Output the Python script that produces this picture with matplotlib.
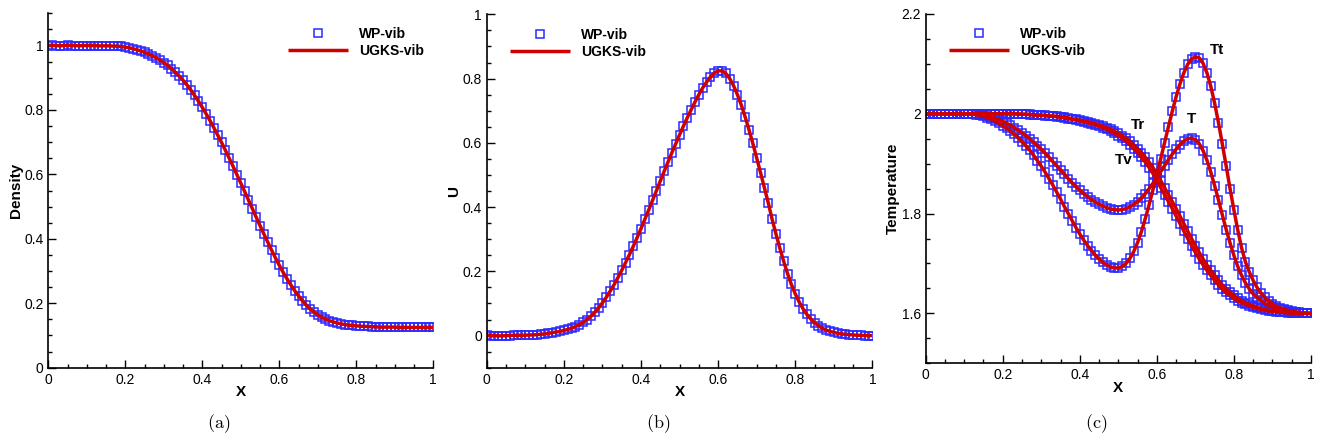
import numpy as np
import matplotlib
matplotlib.use("Agg")
import matplotlib.pyplot as plt
from matplotlib.ticker import MultipleLocator, FuncFormatter

# sample positions (cell spacing 0.01)
x = np.round(np.arange(101) * 0.01, 2)

density = [
    1.000, 1.001, 1.000, 0.999, 1.000, 1.001, 1.000, 1.000, 0.999, 1.000,
    1.000, 1.000, 1.000, 0.999, 0.999, 0.999, 0.999, 0.998, 0.998, 0.997,
    0.995, 0.993, 0.990, 0.987, 0.983, 0.979, 0.974, 0.968, 0.962, 0.955,
    0.947, 0.938, 0.928, 0.917, 0.905, 0.892, 0.878, 0.862, 0.845, 0.827,
    0.808, 0.788, 0.767, 0.745, 0.722, 0.699, 0.675, 0.650, 0.625, 0.599,
    0.573, 0.547, 0.520, 0.494, 0.467, 0.441, 0.415, 0.390, 0.365, 0.341,
    0.318, 0.296, 0.276, 0.257, 0.239, 0.223, 0.208, 0.195, 0.183, 0.173,
    0.164, 0.157, 0.151, 0.146, 0.142, 0.139, 0.136, 0.134, 0.132, 0.131,
    0.130, 0.129, 0.128, 0.128, 0.127, 0.127, 0.126, 0.126, 0.126, 0.126,
    0.126, 0.125, 0.125, 0.125, 0.125, 0.125, 0.125, 0.125, 0.125, 0.125, 0.125,
]

velocity = [
    0.002, 0.000, 0.000, -0.001, -0.001, 0.000, 0.000, 0.001, 0.001, 0.001,
    0.001, 0.002, 0.002, 0.003, 0.004, 0.005, 0.007, 0.009, 0.011, 0.013,
    0.016, 0.019, 0.023, 0.028, 0.034, 0.041, 0.050, 0.060, 0.072, 0.086,
    0.102, 0.119, 0.138, 0.158, 0.180, 0.203, 0.227, 0.252, 0.278, 0.305,
    0.333, 0.362, 0.391, 0.421, 0.451, 0.481, 0.511, 0.540, 0.569, 0.597,
    0.625, 0.652, 0.678, 0.703, 0.727, 0.750, 0.771, 0.789, 0.805, 0.817,
    0.824, 0.824, 0.816, 0.800, 0.778, 0.750, 0.718, 0.681, 0.641, 0.598,
    0.553, 0.507, 0.460, 0.413, 0.362, 0.316, 0.272, 0.231, 0.193, 0.159,
    0.130, 0.105, 0.084, 0.066, 0.052, 0.040, 0.031, 0.023, 0.017, 0.013,
    0.010, 0.007, 0.005, 0.004, 0.003, 0.002, 0.001, 0.001, 0.000, 0.000, 0.000,
]

temp_t = [
    2.000, 2.000, 2.000, 2.000, 2.000, 2.000, 2.000, 2.000, 2.000, 2.000,
    2.000, 1.999, 1.999, 1.998, 1.997, 1.995, 1.992, 1.989, 1.985, 1.981,
    1.976, 1.971, 1.965, 1.959, 1.952, 1.944, 1.936, 1.927, 1.917, 1.906,
    1.895, 1.883, 1.870, 1.857, 1.843, 1.829, 1.814, 1.800, 1.786, 1.772,
    1.759, 1.747, 1.736, 1.726, 1.717, 1.709, 1.702, 1.697, 1.693, 1.691,
    1.691, 1.694, 1.700, 1.710, 1.724, 1.742, 1.764, 1.790, 1.818, 1.848,
    1.878, 1.910, 1.942, 1.974, 2.005, 2.034, 2.060, 2.082, 2.099, 2.110,
    2.114, 2.112, 2.101, 2.082, 2.055, 2.021, 1.982, 1.939, 1.895, 1.850,
    1.807, 1.767, 1.731, 1.703, 1.683, 1.666, 1.652, 1.641, 1.632, 1.625,
    1.619, 1.614, 1.611, 1.608, 1.606, 1.604, 1.603, 1.602, 1.601, 1.600, 1.600,
]

temp_total = [
    2.000, 2.000, 2.000, 2.000, 2.000, 2.000, 2.000, 2.000, 2.000, 2.000,
    2.000, 2.000, 1.999, 1.999, 1.998, 1.997, 1.995, 1.993, 1.991, 1.988,
    1.985, 1.981, 1.977, 1.972, 1.967, 1.962, 1.956, 1.950, 1.943, 1.936,
    1.929, 1.921, 1.913, 1.904, 1.896, 1.887, 1.879, 1.870, 1.862, 1.854,
    1.847, 1.840, 1.834, 1.828, 1.823, 1.819, 1.815, 1.812, 1.809, 1.808,
    1.807, 1.808, 1.810, 1.813, 1.818, 1.824, 1.831, 1.840, 1.850, 1.861,
    1.872, 1.884, 1.896, 1.908, 1.919, 1.929, 1.938, 1.945, 1.950, 1.951,
    1.948, 1.940, 1.926, 1.907, 1.883, 1.856, 1.827, 1.797, 1.768, 1.741,
    1.716, 1.694, 1.676, 1.661, 1.649, 1.639, 1.632, 1.626, 1.620, 1.616,
    1.613, 1.610, 1.608, 1.606, 1.604, 1.603, 1.602, 1.601, 1.601, 1.600, 1.600,
]

temp_r = [
    2.000, 2.000, 2.000, 2.000, 2.000, 2.000, 2.000, 2.000, 2.000, 2.000,
    2.000, 2.000, 2.000, 2.000, 2.000, 2.000, 2.000, 2.000, 2.000, 2.000,
    2.000, 2.000, 2.000, 2.000, 2.000, 1.999, 1.999, 1.999, 1.998, 1.998,
    1.997, 1.997, 1.996, 1.995, 1.995, 1.994, 1.993, 1.992, 1.990, 1.989,
    1.987, 1.986, 1.984, 1.982, 1.980, 1.978, 1.975, 1.972, 1.969, 1.965,
    1.961, 1.956, 1.951, 1.945, 1.938, 1.930, 1.922, 1.913, 1.903, 1.892,
    1.880, 1.866, 1.852, 1.838, 1.824, 1.810, 1.795, 1.780, 1.765, 1.750,
    1.736, 1.722, 1.709, 1.697, 1.686, 1.676, 1.666, 1.657, 1.649, 1.642,
    1.636, 1.630, 1.625, 1.621, 1.618, 1.615, 1.612, 1.610, 1.608, 1.606,
    1.605, 1.604, 1.603, 1.602, 1.602, 1.601, 1.601, 1.600, 1.600, 1.600, 1.600,
]

temp_v = [
    2.000, 2.000, 2.000, 2.000, 2.000, 2.000, 2.000, 2.000, 2.000, 2.000,
    2.000, 2.000, 2.000, 2.000, 2.000, 2.000, 2.000, 2.000, 2.000, 2.000,
    2.000, 2.000, 2.000, 2.000, 1.999, 1.999, 1.999, 1.998, 1.998, 1.997,
    1.997, 1.996, 1.995, 1.995, 1.994, 1.993, 1.992, 1.990, 1.989, 1.987,
    1.986, 1.984, 1.982, 1.980, 1.978, 1.975, 1.972, 1.969, 1.965, 1.961,
    1.956, 1.951, 1.945, 1.938, 1.930, 1.922, 1.913, 1.903, 1.892, 1.880,
    1.866, 1.852, 1.838, 1.824, 1.810, 1.795, 1.780, 1.765, 1.750, 1.736,
    1.722, 1.709, 1.697, 1.686, 1.676, 1.666, 1.657, 1.649, 1.642, 1.636,
    1.630, 1.625, 1.621, 1.618, 1.615, 1.612, 1.610, 1.608, 1.606, 1.605,
    1.604, 1.603, 1.602, 1.602, 1.601, 1.601, 1.600, 1.600, 1.600, 1.600, 1.600,
]

temp_names = ["Tt", "T", "Tr", "Tv"]
temp_label_x = [0.755, 0.69, 0.552, 0.515]
temp_label_y = [2.128, 1.99, 1.977, 1.907]

plt.rcParams["font.family"] = ["Liberation Sans", "DejaVu Sans"]
plt.rcParams["mathtext.fontset"] = "cm"

MARKER = dict(ls="none", marker="s", ms=5.3, mfc="none", mec="#2a2aff", mew=1.1)
LINE = dict(color="#d00000", lw=2.5, solid_capstyle="butt")


def style_axes(ax, ylim, ylabel):
    ax.set_xlim(0, 1)
    ax.set_ylim(*ylim)
    for side in ["top", "right"]:
        ax.spines[side].set_visible(False)
    for side in ["left", "bottom"]:
        ax.spines[side].set_linewidth(1.2)
    ax.xaxis.set_major_locator(MultipleLocator(0.2))
    ax.xaxis.set_minor_locator(MultipleLocator(0.05))
    ax.yaxis.set_major_locator(MultipleLocator(0.2))
    ax.yaxis.set_minor_locator(MultipleLocator(0.05))
    fmt = FuncFormatter(lambda v, p: f"{v:g}" if abs(v) > 1e-9 else "0")
    ax.xaxis.set_major_formatter(fmt)
    ax.yaxis.set_major_formatter(fmt)
    ax.tick_params(which="both", direction="in", top=False, right=False,
                   width=1.0, labelsize=10, pad=3.5)
    ax.tick_params(which="major", length=5.5)
    ax.tick_params(which="minor", length=3)
    ax.set_xlabel("X", fontsize=11, fontweight="bold", labelpad=-1)
    ax.set_ylabel(ylabel, fontsize=11, fontweight="bold", labelpad=1)


def add_legend(ax, fx, fy):
    ax.legend(loc="upper left", bbox_to_anchor=(fx, fy), frameon=False,
              borderaxespad=0, borderpad=0, handlelength=4.3, handletextpad=0.8,
              labelspacing=0.2, numpoints=1,
              prop=dict(weight="bold", size=10))


fig = plt.figure(figsize=(13.23, 4.42), dpi=100)
ax_a = fig.add_axes([0.0365, 0.1681, 0.2910, 0.8018])
ax_b = fig.add_axes([0.3679, 0.1681, 0.2915, 0.7995])
ax_c = fig.add_axes([0.6997, 0.1781, 0.2912, 0.7903])

# (a) density
ax_a.plot(x, density, label="WP-vib", **MARKER)
ax_a.plot(x, density, label="UGKS-vib", **LINE)
style_axes(ax_a, (0, 1.1), "Density")
add_legend(ax_a, 0.623, 0.962)

# (b) velocity
ax_b.plot(x, velocity, label="WP-vib", **MARKER)
ax_b.plot(x, velocity, label="UGKS-vib", **LINE)
style_axes(ax_b, (-0.1, 1.0), "U")
add_legend(ax_b, 0.060, 0.962)

# (c) temperatures
temps = [temp_t, temp_total, temp_r, temp_v]
for i, t in enumerate(temps):
    ax_c.plot(x, t, label="WP-vib" if i == 0 else None, **MARKER)
for i, t in enumerate(temps):
    ax_c.plot(x, t, label="UGKS-vib" if i == 0 else None, **LINE)
for name, tx, ty in zip(temp_names, temp_label_x, temp_label_y):
    ax_c.text(tx, ty, name, ha="center", va="center", fontsize=11, fontweight="bold")
style_axes(ax_c, (1.5, 2.2), "Temperature")
add_legend(ax_c, 0.060, 0.962)

for cx, tag in zip([0.1653, 0.4972, 0.8289], ["a", "b", "c"]):
    fig.text(cx, 0.042, r"$\mathrm{(" + tag + ")}$", ha="center", va="center", fontsize=13)

fig.savefig("out.png", dpi=100)
